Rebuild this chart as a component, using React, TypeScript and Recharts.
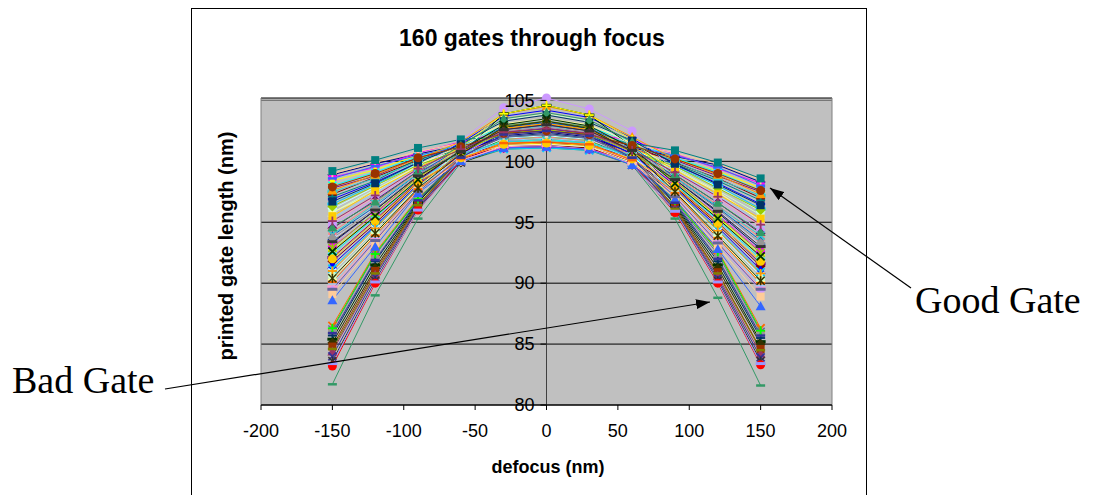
import React from "react";
import { LineChart, Line, XAxis, YAxis, CartesianGrid, ReferenceLine } from "recharts";

const defocus = [-150, -120, -90, -60, -30, 0, 30, 60, 90, 120, 150];
const xTicks = [-200, -150, -100, -50, 0, 50, 100, 150, 200];
const yTicks = [80, 85, 90, 95, 100, 105];

// printed gate length (nm) per gate, one value per defocus step
const gateSet1 = [
  [98.9, 99.8, 100.6, 101.3, 101.7, 101.8, 101.6, 101.1, 100.4, 99.7, 98.3],
  [98.7, 99.5, 100.7, 101.6, 102.4, 102.6, 102.3, 101.7, 100.6, 99.4, 98.2],
  [98.4, 99.3, 100.5, 101.0, 101.4, 101.5, 101.3, 100.8, 100.2, 99.2, 97.8],
  [98.0, 99.1, 100.4, 101.4, 102.9, 103.3, 102.8, 101.6, 100.3, 99.1, 97.6],
  [97.8, 98.8, 100.3, 101.1, 101.9, 102.0, 101.8, 101.0, 100.1, 98.8, 97.5],
  [97.3, 98.7, 100.1, 101.2, 102.2, 102.5, 102.1, 101.3, 99.9, 98.6, 97.0],
  [97.1, 98.4, 100.2, 100.9, 101.5, 101.6, 101.4, 100.7, 99.8, 98.4, 96.8],
  [96.9, 98.3, 99.9, 101.5, 103.7, 104.2, 103.6, 101.9, 99.7, 98.2, 96.5],
  [96.5, 98.1, 99.8, 100.8, 101.3, 101.4, 101.2, 100.6, 99.6, 98.0, 96.1],
  [96.1, 97.9, 99.8, 101.0, 102.1, 102.3, 102.0, 101.0, 99.5, 97.9, 95.9],
  [95.8, 97.7, 99.6, 100.7, 101.6, 101.8, 101.5, 100.5, 99.4, 97.6, 95.6],
  [95.8, 97.5, 99.7, 101.3, 103.1, 103.5, 103.0, 101.5, 99.3, 97.5, 95.1],
  [95.3, 97.4, 99.5, 100.6, 101.2, 101.3, 101.1, 100.4, 99.2, 97.2, 94.9],
  [95.0, 97.1, 99.4, 100.9, 102.0, 102.2, 101.9, 100.8, 99.1, 97.0, 94.7],
  [94.8, 96.9, 99.3, 101.7, 104.4, 105.2, 104.3, 102.5, 99.2, 96.9, 94.3],
  [99.0, 99.9, 100.8, 101.5, 102.2, 102.4, 102.1, 101.4, 100.7, 99.8, 98.5],
  [98.6, 99.6, 100.5, 101.2, 101.9, 102.0, 101.8, 101.2, 100.5, 99.5, 98.0],
  [97.5, 98.6, 100.0, 101.3, 102.6, 102.9, 102.5, 101.4, 100.0, 98.5, 97.2],
  [96.3, 98.0, 99.7, 100.9, 101.8, 102.0, 101.7, 100.8, 99.6, 97.8, 96.0],
  [95.5, 97.6, 99.5, 101.1, 102.7, 103.1, 102.6, 101.2, 99.3, 97.3, 95.3],
  [97.6, 98.9, 100.2, 101.6, 103.9, 104.5, 103.8, 102.0, 100.2, 98.9, 97.3],
];

const badGates = [
  [86.5, 92.5, 97.0, 100.1, 101.6, 101.9, 101.5, 100.0, 96.8, 92.7, 86.3],
  [86.2, 92.3, 96.9, 100.4, 102.8, 103.2, 102.7, 100.5, 96.7, 92.4, 86.0],
  [86.0, 92.0, 96.8, 100.0, 101.3, 101.5, 101.2, 99.9, 96.6, 92.1, 85.8],
  [85.7, 91.8, 96.7, 100.2, 102.0, 102.3, 101.9, 100.2, 96.5, 91.8, 85.5],
  [81.7, 89.0, 95.3, 99.9, 101.0, 101.1, 100.9, 99.7, 95.3, 88.8, 81.6],
  [85.4, 91.5, 96.6, 100.6, 103.9, 104.6, 103.8, 101.2, 96.4, 91.5, 85.2],
  [85.1, 91.2, 96.5, 99.9, 101.1, 101.2, 101.0, 99.8, 96.3, 91.2, 85.0],
  [84.8, 91.0, 96.4, 100.3, 102.4, 102.7, 102.3, 100.3, 96.2, 90.9, 84.6],
  [84.4, 90.7, 96.3, 100.0, 101.5, 101.7, 101.4, 99.9, 96.1, 90.6, 84.2],
  [84.0, 90.5, 96.2, 100.1, 101.9, 102.1, 101.8, 100.0, 96.0, 90.4, 83.9],
  [83.6, 90.2, 96.1, 99.9, 101.2, 101.3, 101.1, 99.7, 95.9, 90.2, 83.6],
  [83.2, 90.0, 96.0, 100.0, 101.4, 101.6, 101.3, 99.8, 95.8, 90.0, 83.3],
  [86.3, 92.4, 96.9, 100.2, 101.8, 102.0, 101.7, 100.1, 96.8, 92.6, 86.1],
  [84.6, 90.8, 96.4, 100.4, 102.9, 103.3, 102.8, 100.6, 96.1, 90.8, 84.5],
  [83.4, 90.1, 96.0, 99.9, 101.3, 101.4, 101.2, 99.7, 95.9, 90.1, 83.4],
];

const gateSet2 = [
  [94.5, 96.8, 99.2, 100.5, 101.4, 101.5, 101.3, 100.3, 98.9, 96.6, 94.1],
  [94.2, 96.6, 99.1, 100.8, 101.8, 102.0, 101.7, 100.6, 98.8, 96.4, 93.7],
  [93.9, 96.3, 99.0, 101.1, 102.8, 103.2, 102.7, 101.2, 98.7, 96.2, 93.5],
  [93.6, 96.2, 98.9, 100.4, 101.3, 101.4, 101.2, 100.2, 98.6, 96.0, 93.1],
  [93.3, 96.0, 98.8, 100.7, 102.1, 102.4, 102.0, 100.7, 98.5, 95.8, 92.8],
  [93.0, 95.7, 98.7, 100.3, 101.1, 101.2, 101.0, 100.1, 98.3, 95.6, 92.6],
  [92.7, 95.5, 98.6, 101.2, 103.9, 104.6, 103.8, 101.8, 98.4, 95.4, 92.3],
  [92.4, 95.4, 98.5, 100.5, 101.6, 101.8, 101.5, 100.4, 98.1, 95.2, 92.0],
  [92.1, 95.2, 98.4, 100.9, 102.6, 103.0, 102.5, 100.9, 98.0, 95.0, 91.6],
  [91.8, 94.9, 98.3, 100.2, 101.2, 101.3, 101.1, 100.0, 97.9, 94.8, 91.4],
  [99.2, 100.1, 101.1, 101.8, 102.0, 102.1, 101.9, 101.5, 100.9, 99.9, 98.6],
  [91.5, 94.7, 98.1, 100.6, 102.3, 102.7, 102.2, 100.6, 97.8, 94.6, 91.1],
  [91.2, 94.6, 98.0, 100.1, 101.0, 101.1, 100.9, 99.9, 97.7, 94.4, 90.9],
  [90.9, 94.4, 97.9, 100.4, 101.9, 102.1, 101.8, 100.4, 97.6, 94.2, 90.6],
  [90.6, 94.2, 97.8, 101.0, 103.4, 103.9, 103.3, 101.3, 97.5, 94.0, 90.3],
  [90.3, 94.0, 97.7, 100.0, 101.3, 101.4, 101.2, 99.9, 97.4, 93.8, 90.1],
  [90.0, 93.8, 97.8, 100.3, 101.7, 101.9, 101.6, 100.2, 97.3, 93.6, 89.8],
  [89.7, 93.6, 97.6, 100.1, 101.2, 101.3, 101.0, 99.8, 97.2, 93.4, 89.6],
  [89.4, 93.4, 97.5, 100.5, 102.5, 102.8, 102.4, 100.7, 97.1, 93.2, 89.4],
  [89.1, 93.3, 97.6, 100.2, 101.5, 101.7, 101.4, 100.0, 97.0, 93.0, 88.9],
  [88.6, 93.0, 97.4, 100.0, 101.1, 101.2, 101.0, 99.7, 96.9, 92.8, 88.1],
  [94.0, 96.5, 99.0, 100.6, 101.6, 101.7, 101.5, 100.5, 98.7, 96.3, 93.9],
  [92.9, 95.8, 98.7, 100.8, 102.3, 102.6, 102.2, 100.8, 98.4, 95.5, 92.5],
  [92.0, 95.1, 98.3, 100.3, 101.4, 101.5, 101.3, 100.2, 98.0, 94.9, 91.8],
  [91.0, 94.5, 98.0, 100.7, 102.7, 103.1, 102.6, 100.9, 97.7, 94.3, 90.8],
  [90.1, 93.9, 97.7, 100.2, 101.5, 101.6, 101.4, 100.1, 97.4, 93.7, 90.0],
  [89.5, 93.5, 97.5, 100.4, 102.0, 102.2, 101.9, 100.3, 97.1, 93.3, 89.5],
  [93.7, 96.1, 98.9, 100.9, 102.5, 102.8, 102.4, 101.0, 98.6, 96.1, 93.3],
];

const gateSet3 = [
  [96.7, 98.2, 99.9, 101.4, 103.3, 103.8, 103.2, 101.7, 99.8, 98.1, 96.4],
  [94.6, 96.7, 99.2, 101.3, 103.5, 104.0, 103.4, 101.6, 98.9, 96.6, 94.2],
  [92.6, 95.5, 98.5, 100.9, 103.0, 103.5, 102.9, 101.1, 98.2, 95.3, 92.2],
  [90.4, 94.1, 97.8, 100.6, 102.8, 103.3, 102.7, 100.8, 97.5, 93.9, 90.2],
  [97.9, 99.0, 100.3, 101.2, 102.3, 102.5, 102.2, 101.3, 100.2, 99.0, 97.6],
  [95.1, 97.2, 99.4, 101.0, 102.4, 102.7, 102.3, 100.9, 99.1, 97.1, 94.8],
  [85.9, 91.9, 96.8, 100.3, 102.2, 102.5, 102.1, 100.3, 96.6, 92.0, 85.7],
  [93.4, 96.0, 98.8, 100.8, 102.6, 103.0, 102.5, 100.9, 98.5, 95.9, 93.0],
];

const gates = [...gateSet1, ...badGates, ...gateSet2, ...gateSet3];

const data = defocus.map((x, i) => {
  const row: any = { x };
  gates.forEach((g, j) => {
    row["g" + j] = g[i];
  });
  return row;
});

// excel 2003 style series colours / markers
const COLORS = [
  "#000080", "#FF00FF", "#FFFF00", "#00FFFF", "#800080", "#800000", "#008080", "#0000FF",
  "#00CCFF", "#CCFFFF", "#CCFFCC", "#FFFF99", "#99CCFF", "#FF99CC", "#CC99FF", "#FFCC99",
  "#3366FF", "#33CCCC", "#99CC00", "#FFCC00", "#FF9900", "#FF6600", "#666699", "#969696",
  "#003366", "#339966", "#003300", "#333300", "#993300", "#993366", "#333399", "#333333",
  "#FF0000", "#00FF00", "#808000", "#9999FF", "#660066", "#FF8080", "#0066CC", "#CCCCFF",
];
const SHAPES = ["diamond", "square", "triangle", "x", "star", "circle", "plus", "dash", "bar"];

const W = 1094;
const H = 495;
const PLOT_LEFT = 261;
const PLOT_RIGHT = 832;
const ZERO_X = (PLOT_LEFT + PLOT_RIGHT) / 2;

function marker(shape: string, color: string) {
  return (p: any) => {
    const { cx, cy, index } = p;
    const k = "m" + index;
    if (cx == null || cy == null) return <g key={k} />;
    switch (shape) {
      case "diamond":
        return <polygon key={k} points={`${cx},${cy - 5} ${cx + 5},${cy} ${cx},${cy + 5} ${cx - 5},${cy}`} fill={color} />;
      case "square":
        return <rect key={k} x={cx - 4} y={cy - 4} width={8} height={8} fill={color} />;
      case "triangle":
        return <polygon key={k} points={`${cx},${cy - 5} ${cx + 5},${cy + 4} ${cx - 5},${cy + 4}`} fill={color} />;
      case "x":
        return (
          <g key={k} stroke={color} strokeWidth={1.8}>
            <line x1={cx - 4} y1={cy - 4} x2={cx + 4} y2={cy + 4} />
            <line x1={cx - 4} y1={cy + 4} x2={cx + 4} y2={cy - 4} />
          </g>
        );
      case "star":
        return (
          <g key={k} stroke={color} strokeWidth={1.5}>
            <line x1={cx - 4} y1={cy - 4} x2={cx + 4} y2={cy + 4} />
            <line x1={cx - 4} y1={cy + 4} x2={cx + 4} y2={cy - 4} />
            <line x1={cx} y1={cy - 4.5} x2={cx} y2={cy + 4.5} />
          </g>
        );
      case "circle":
        return <circle key={k} cx={cx} cy={cy} r={4.5} fill={color} />;
      case "plus":
        return (
          <g key={k} stroke={color} strokeWidth={1.8}>
            <line x1={cx - 4.5} y1={cy} x2={cx + 4.5} y2={cy} />
            <line x1={cx} y1={cy - 4.5} x2={cx} y2={cy + 4.5} />
          </g>
        );
      case "dash":
        return <line key={k} x1={cx - 4.5} y1={cy} x2={cx + 4.5} y2={cy} stroke={color} strokeWidth={2.5} />;
      default:
        return <line key={k} x1={cx - 5} y1={cy} x2={cx + 5} y2={cy} stroke={color} strokeWidth={3} />;
    }
  };
}

const YTick = (props: any) => {
  const { y, payload } = props;
  return (
    <g>
      <line x1={ZERO_X - 6} x2={ZERO_X} y1={y} y2={y} stroke="#000" />
      <text x={ZERO_X - 12} y={y} dy="0.35em" textAnchor="end" fontSize={18} fill="#000">
        {payload.value}
      </text>
    </g>
  );
};

export default function App() {
  return (
    <div
      style={{
        position: "absolute",
        left: 0,
        top: 0,
        width: W,
        height: H,
        background: "#fff",
        fontFamily: "'Liberation Sans', Arial, sans-serif",
        overflow: "hidden",
      }}
    >
      <LineChart width={W} height={H} data={data} margin={{ top: 98, right: W - PLOT_RIGHT, bottom: 30, left: PLOT_LEFT - 10 }}>
        <CartesianGrid fill="#C0C0C0" stroke="#000" vertical={false} />
        <XAxis
          dataKey="x"
          type="number"
          domain={[-200, 200]}
          ticks={xTicks}
          interval={0}
          height={60}
          tickSize={5}
          tickMargin={14}
          axisLine={{ stroke: "#000" }}
          tickLine={{ stroke: "#000" }}
          tick={{ fontSize: 18, fill: "#000" }}
        />
        <YAxis
          type="number"
          domain={[80, 105]}
          ticks={yTicks}
          interval={0}
          width={10}
          axisLine={false}
          tickLine={false}
          tick={<YTick />}
        />
        <ReferenceLine x={-200} stroke="#808080" />
        <ReferenceLine x={200} stroke="#808080" />
        <ReferenceLine y={105} stroke="#808080" />
        <ReferenceLine x={0} stroke="#404040" />
        {gates.map((g, j) => {
          const color = COLORS[j % COLORS.length];
          return (
            <Line
              key={"g" + j}
              dataKey={"g" + j}
              type="linear"
              stroke={color}
              strokeWidth={1}
              dot={marker(SHAPES[j % SHAPES.length], color)}
              activeDot={false}
              isAnimationActive={false}
            />
          );
        })}
      </LineChart>
      <svg width={W} height={H} style={{ position: "absolute", left: 0, top: 0, pointerEvents: "none" }}>
        <defs>
          <marker id="arrow" viewBox="0 0 14 10" refX={14} refY={5} markerWidth={14} markerHeight={10} markerUnits="userSpaceOnUse" orient="auto">
            <path d="M0,0 L14,5 L0,10 z" fill="#000" />
          </marker>
        </defs>
        <rect x={191.5} y={8.5} width={675} height={520} fill="none" stroke="#000" />
        <text x={532} y={46} textAnchor="middle" fontSize={23} fontWeight="bold" fill="#000">
          160 gates through focus
        </text>
        <text x={233} y={246} textAnchor="middle" fontSize={20} fontWeight="bold" fill="#000" transform="rotate(-90 233 246)">
          printed gate length (nm)
        </text>
        <text x={548} y={473} textAnchor="middle" fontSize={18} fontWeight="bold" fill="#000">
          defocus (nm)
        </text>
        <line x1={165} y1={389} x2={710} y2={302} stroke="#000" strokeWidth={1.2} markerEnd="url(#arrow)" />
        <line x1={911} y1={288} x2={770} y2={188} stroke="#000" strokeWidth={1.2} markerEnd="url(#arrow)" />
        <text x={12} y={393} fontSize={38} fill="#000" fontFamily="'Liberation Serif', 'Times New Roman', serif">
          Bad Gate
        </text>
        <text x={915} y={313} fontSize={38} fill="#000" fontFamily="'Liberation Serif', 'Times New Roman', serif">
          Good Gate
        </text>
      </svg>
    </div>
  );
}
